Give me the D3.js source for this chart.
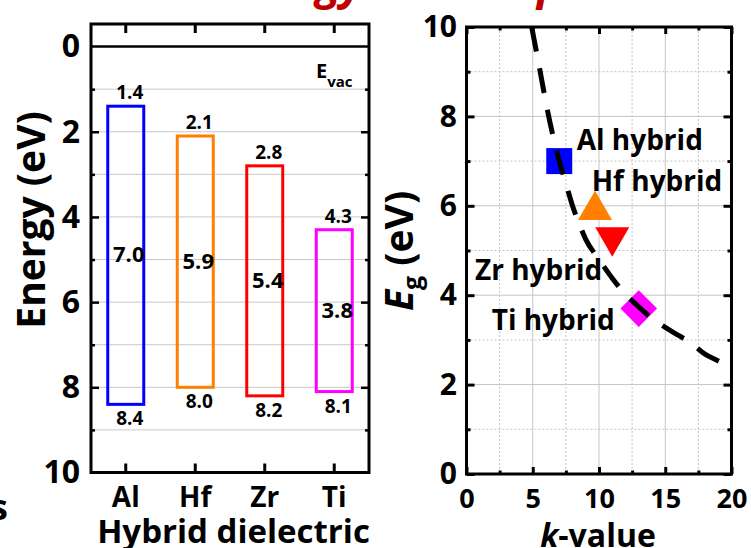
<!DOCTYPE html>
<html>
<head>
<meta charset="utf-8">
<script src="https://cdn.jsdelivr.net/npm/d3@7"></script>
<style>
  body { margin: 0; background: #fff; }
  svg { display: block; }
  text { font-family: "Open Sans", "Noto Sans", sans-serif; font-weight: bold; fill: #000; }
</style>
</head>
<body>
<svg id="chart" width="751" height="548"></svg>
<script>
// ---- band diagram data (energies below vacuum level, eV) ----
const dielectrics = ["Al", "Hf", "Zr", "Ti"];
const cbEdge = [1.4, 2.1, 2.8, 4.3];
const vbEdge = [8.4, 8.0, 8.2, 8.1];
const bandGap = [7.0, 5.9, 5.4, 3.8];
const bandColors = ["#0000ff", "#ff8000", "#ff0000", "#ff00ff"];
const energyTicks = [0, 2, 4, 6, 8, 10];
const energyMinor = [1, 3, 5, 7, 9];

// ---- band gap vs dielectric constant ----
const hybridNames = ["Al hybrid", "Hf hybrid", "Zr hybrid", "Ti hybrid"];
const hybridK = [7.0, 9.7, 11.0, 13.0];
const hybridEg = [7.0, 5.9, 5.3, 3.7];
const hybridSymbols = ["square", "triangleUp", "triangleDown", "diamond"];
const kTicks = [0, 5, 10, 15, 20];
const kMinor = [2.5, 7.5, 12.5, 17.5];
const egTicks = [0, 2, 4, 6, 8, 10];
const egMinor = [1, 3, 5, 7, 9];

// empirical trend line Eg(k)
const trendK  = [4.92, 5.5, 6, 6.5, 7, 7.5, 8, 8.5, 9, 10, 11, 12, 13, 14, 15, 16, 17, 18, 19, 20];
const trendEg = [10.0, 9.1, 8.3, 7.6, 7.0, 6.5, 6.0, 5.6, 5.25, 4.8, 4.38, 4.02, 3.74, 3.48, 3.28, 3.1, 2.92, 2.68, 2.53, 2.38];

const svg = d3.select("#chart");

// heading: large red title that runs off the top edge; sized so that the
// descenders of "gy" and "p" fall at fixed x positions
const titleText = "Energy level dependence";
const title = svg.append("text")
  .attr("y", -1)
  .style("font-size", "44px").style("font-style", "italic")
  .style("fill", "#c00000")
  .text(titleText);
{
  const node = title.node();
  const gOff = node.getSubStringLength(0, titleText.indexOf("gy"));
  const pOff = node.getSubStringLength(0, titleText.indexOf("p"));
  const fs = 44 * (537 - 316) / (pOff - gOff);
  title.style("font-size", fs + "px").attr("x", 316 - gOff * fs / 44);
}

// fragment of neighbouring label at the left edge
svg.append("text")
  .attr("x", 8).attr("y", 520).attr("text-anchor", "end")
  .style("font-size", "36px")
  .text("s");

// =============== left panel: band alignment ===============
const L = { x0: 91, x1: 369, y0: 24, y1: 472.5 };
const xL = d3.scaleBand().domain(dielectrics).range([L.x0, L.x1]);
const yL = d3.scaleLinear().domain([-0.53, 10]).range([L.y0, L.y1]);

const gl = svg.append("g");

// horizontal grid
gl.append("g").selectAll("line")
  .data(d3.range(1, 10))
  .join("line")
  .attr("x1", L.x0).attr("x2", L.x1)
  .attr("y1", d => yL(d)).attr("y2", d => yL(d))
  .attr("stroke", "#c8c8c8").attr("stroke-width", 1);

// vacuum level
gl.append("line")
  .attr("x1", L.x0).attr("x2", L.x1)
  .attr("y1", yL(0)).attr("y2", yL(0))
  .attr("stroke", "#000").attr("stroke-width", 2.5);

gl.append("text")
  .attr("x", 316).attr("y", 77.5)
  .style("font-size", "20px")
  .text("E")
  .append("tspan")
  .attr("dy", 9).style("font-size", "15px")
  .text("vac");

// band boxes
const boxW = 36;
gl.append("g").selectAll("rect")
  .data(dielectrics)
  .join("rect")
  .attr("x", (d) => xL(d) + xL.bandwidth() / 2 - boxW / 2)
  .attr("width", boxW)
  .attr("y", (d, i) => yL(cbEdge[i]))
  .attr("height", (d, i) => yL(vbEdge[i]) - yL(cbEdge[i]))
  .attr("fill", "none")
  .attr("stroke", (d, i) => bandColors[i])
  .attr("stroke-width", 3);

const cx = d => xL(d) + xL.bandwidth() / 2 + 4;
gl.append("g").selectAll("text")
  .data(dielectrics)
  .join("text")
  .attr("x", cx).attr("y", (d, i) => yL(cbEdge[i]) - 7)
  .attr("text-anchor", "middle").style("font-size", "19px")
  .text((d, i) => cbEdge[i].toFixed(1));

gl.append("g").selectAll("text")
  .data(dielectrics)
  .join("text")
  .attr("x", cx).attr("y", (d, i) => yL(vbEdge[i]) + 21)
  .attr("text-anchor", "middle").style("font-size", "19px")
  .text((d, i) => vbEdge[i].toFixed(1));

gl.append("g").selectAll("text")
  .data(dielectrics)
  .join("text")
  .attr("x", d => cx(d) - 1)
  .attr("y", (d, i) => yL((cbEdge[i] + vbEdge[i]) / 2) + 7)
  .attr("text-anchor", "middle").style("font-size", "22px")
  .text((d, i) => bandGap[i].toFixed(1));

// frame
gl.append("rect")
  .attr("x", L.x0).attr("y", L.y0)
  .attr("width", L.x1 - L.x0).attr("height", L.y1 - L.y0)
  .attr("fill", "none").attr("stroke", "#000").attr("stroke-width", 3);

function tickStyle(g, w) {
  g.select(".domain").remove();
  g.selectAll(".tick line").attr("stroke", "#000").attr("stroke-width", w);
  g.selectAll(".tick text").remove();
}
// inward ticks on all four sides
gl.append("g").attr("transform", `translate(${L.x0},0)`)
  .call(d3.axisRight(yL).tickValues(energyTicks.slice(1, -1)).tickSize(8)).call(tickStyle, 2.5);
gl.append("g").attr("transform", `translate(${L.x0},0)`)
  .call(d3.axisRight(yL).tickValues(energyMinor).tickSize(4)).call(tickStyle, 2.5);
gl.append("g").attr("transform", `translate(${L.x1},0)`)
  .call(d3.axisLeft(yL).tickValues(energyTicks.slice(1, -1)).tickSize(8)).call(tickStyle, 2.5);
gl.append("g").attr("transform", `translate(${L.x1},0)`)
  .call(d3.axisLeft(yL).tickValues(energyMinor).tickSize(4)).call(tickStyle, 2.5);
gl.append("g").attr("transform", `translate(0,${L.y0})`)
  .call(d3.axisBottom(xL).tickSize(9)).call(tickStyle, 3);
gl.append("g").attr("transform", `translate(0,${L.y1})`)
  .call(d3.axisTop(xL).tickSize(9)).call(tickStyle, 3);

// tick labels
gl.append("g").attr("transform", `translate(${L.x0},0)`)
  .call(d3.axisLeft(yL).tickValues(energyTicks).tickSize(0).tickPadding(11))
  .call(g => g.select(".domain").remove())
  .selectAll("text").style("font-size", "32px").style("font-family", null);

gl.append("g").selectAll("text")
  .data(dielectrics)
  .join("text")
  .attr("x", d => xL(d) + xL.bandwidth() / 2).attr("y", 507)
  .attr("text-anchor", "middle").style("font-size", "28px")
  .text(d => d);

gl.append("text")
  .attr("x", 233.5).attr("y", 543)
  .attr("text-anchor", "middle").style("font-size", "33px")
  .text("Hybrid dielectric");

gl.append("text")
  .attr("transform", "translate(45,220) rotate(-90)")
  .attr("text-anchor", "middle").style("font-size", "39px")
  .text("Energy (eV)");

// =============== right panel: Eg vs k ===============
const R = { x0: 466.5, x1: 731.5, y0: 27, y1: 474 };
const xR = d3.scaleLinear().domain([0, 20]).range([R.x0, R.x1]);
const yR = d3.scaleLinear().domain([0, 10]).range([R.y1, R.y0]);

const gr = svg.append("g");

// grid: solid at major, dotted at minor
gr.append("g").selectAll("line")
  .data(kTicks.slice(1, -1)).join("line")
  .attr("x1", d => xR(d)).attr("x2", d => xR(d))
  .attr("y1", R.y0).attr("y2", R.y1)
  .attr("stroke", "#c4c4c4").attr("stroke-width", 1);
gr.append("g").selectAll("line")
  .data(kMinor).join("line")
  .attr("x1", d => xR(d)).attr("x2", d => xR(d))
  .attr("y1", R.y0).attr("y2", R.y1)
  .attr("stroke", "#c4c4c4").attr("stroke-width", 1).attr("stroke-dasharray", "2,2");
gr.append("g").selectAll("line")
  .data(egTicks.slice(1, -1)).join("line")
  .attr("x1", R.x0).attr("x2", R.x1)
  .attr("y1", d => yR(d)).attr("y2", d => yR(d))
  .attr("stroke", "#c4c4c4").attr("stroke-width", 1);
gr.append("g").selectAll("line")
  .data(egMinor).join("line")
  .attr("x1", R.x0).attr("x2", R.x1)
  .attr("y1", d => yR(d)).attr("y2", d => yR(d))
  .attr("stroke", "#c4c4c4").attr("stroke-width", 1).attr("stroke-dasharray", "2,2");

// markers
const symbolPath = {
  square: d3.symbol(d3.symbolSquare, 676)(),
  triangleUp: d3.symbol(d3.symbolTriangle, 500)(),
  triangleDown: d3.symbol(d3.symbolTriangle, 500)(),
  diamond: d3.symbol(d3.symbolSquare, 670)()
};
const symbolRot = { square: 0, triangleUp: 0, triangleDown: 180, diamond: 45 };
gr.append("g").selectAll("path")
  .data(hybridNames).join("path")
  .attr("d", (d, i) => symbolPath[hybridSymbols[i]])
  .attr("transform", (d, i) => `translate(${xR(hybridK[i])},${yR(hybridEg[i])}) rotate(${symbolRot[hybridSymbols[i]]})`)
  .attr("fill", (d, i) => bandColors[i]);

// trend line
const trend = trendK.map((k, i) => [k, trendEg[i]]);
gr.append("path")
  .datum(trend)
  .attr("d", d3.line().x(d => xR(d[0])).y(d => yR(d[1])).curve(d3.curveMonotoneX))
  .attr("fill", "none").attr("stroke", "#000")
  .attr("stroke-width", 5).attr("stroke-dasharray", "25,17");

// point labels
const labelPos = [[576.7, 150], [591.7, 191], [475, 280], [491.7, 330]];
gr.append("g").selectAll("text")
  .data(hybridNames).join("text")
  .attr("x", (d, i) => labelPos[i][0]).attr("y", (d, i) => labelPos[i][1])
  .style("font-size", "28px")
  .text(d => d);

// frame
gr.append("rect")
  .attr("x", R.x0).attr("y", R.y0)
  .attr("width", R.x1 - R.x0).attr("height", R.y1 - R.y0)
  .attr("fill", "none").attr("stroke", "#000").attr("stroke-width", 3);

// inward ticks
gr.append("g").attr("transform", `translate(0,${R.y1})`)
  .call(d3.axisTop(xR).tickValues(kTicks).tickSize(7)).call(tickStyle, 3);
gr.append("g").attr("transform", `translate(0,${R.y1})`)
  .call(d3.axisTop(xR).tickValues(kMinor).tickSize(3.5)).call(tickStyle, 3);
gr.append("g").attr("transform", `translate(0,${R.y0})`)
  .call(d3.axisBottom(xR).tickValues(kTicks).tickSize(7)).call(tickStyle, 3);
gr.append("g").attr("transform", `translate(0,${R.y0})`)
  .call(d3.axisBottom(xR).tickValues(kMinor).tickSize(3.5)).call(tickStyle, 3);
gr.append("g").attr("transform", `translate(${R.x0},0)`)
  .call(d3.axisRight(yR).tickValues(egTicks).tickSize(8)).call(tickStyle, 3);
gr.append("g").attr("transform", `translate(${R.x0},0)`)
  .call(d3.axisRight(yR).tickValues(egMinor).tickSize(4)).call(tickStyle, 3);
gr.append("g").attr("transform", `translate(${R.x1},0)`)
  .call(d3.axisLeft(yR).tickValues(egTicks).tickSize(8)).call(tickStyle, 3);
gr.append("g").attr("transform", `translate(${R.x1},0)`)
  .call(d3.axisLeft(yR).tickValues(egMinor).tickSize(4)).call(tickStyle, 3);

// tick labels
gr.append("g").attr("transform", `translate(${R.x0},0)`)
  .call(d3.axisLeft(yR).tickValues(egTicks).tickSize(0).tickPadding(9.5))
  .call(g => g.select(".domain").remove())
  .selectAll("text").style("font-size", "30px").style("font-family", null);
gr.append("g").attr("transform", `translate(0,${R.y1})`)
  .call(d3.axisBottom(xR).tickValues(kTicks).tickSize(0).tickPadding(15))
  .call(g => g.select(".domain").remove())
  .selectAll("text").style("font-size", "27px").style("font-family", null);

// axis titles
const xt = gr.append("text")
  .attr("x", 598).attr("y", 547)
  .attr("text-anchor", "middle").style("font-size", "32px");
xt.append("tspan").style("font-style", "italic").text("k");
xt.append("tspan").text("-value");

const yt = gr.append("text")
  .attr("transform", "translate(413,251) rotate(-90)")
  .attr("text-anchor", "middle").style("font-size", "39px");
yt.append("tspan").style("font-style", "italic").text("E");
yt.append("tspan").attr("dy", 8).style("font-size", "25px").text("g");
yt.append("tspan").attr("dy", -8).text(" (eV)");
</script>
</body>
</html>
